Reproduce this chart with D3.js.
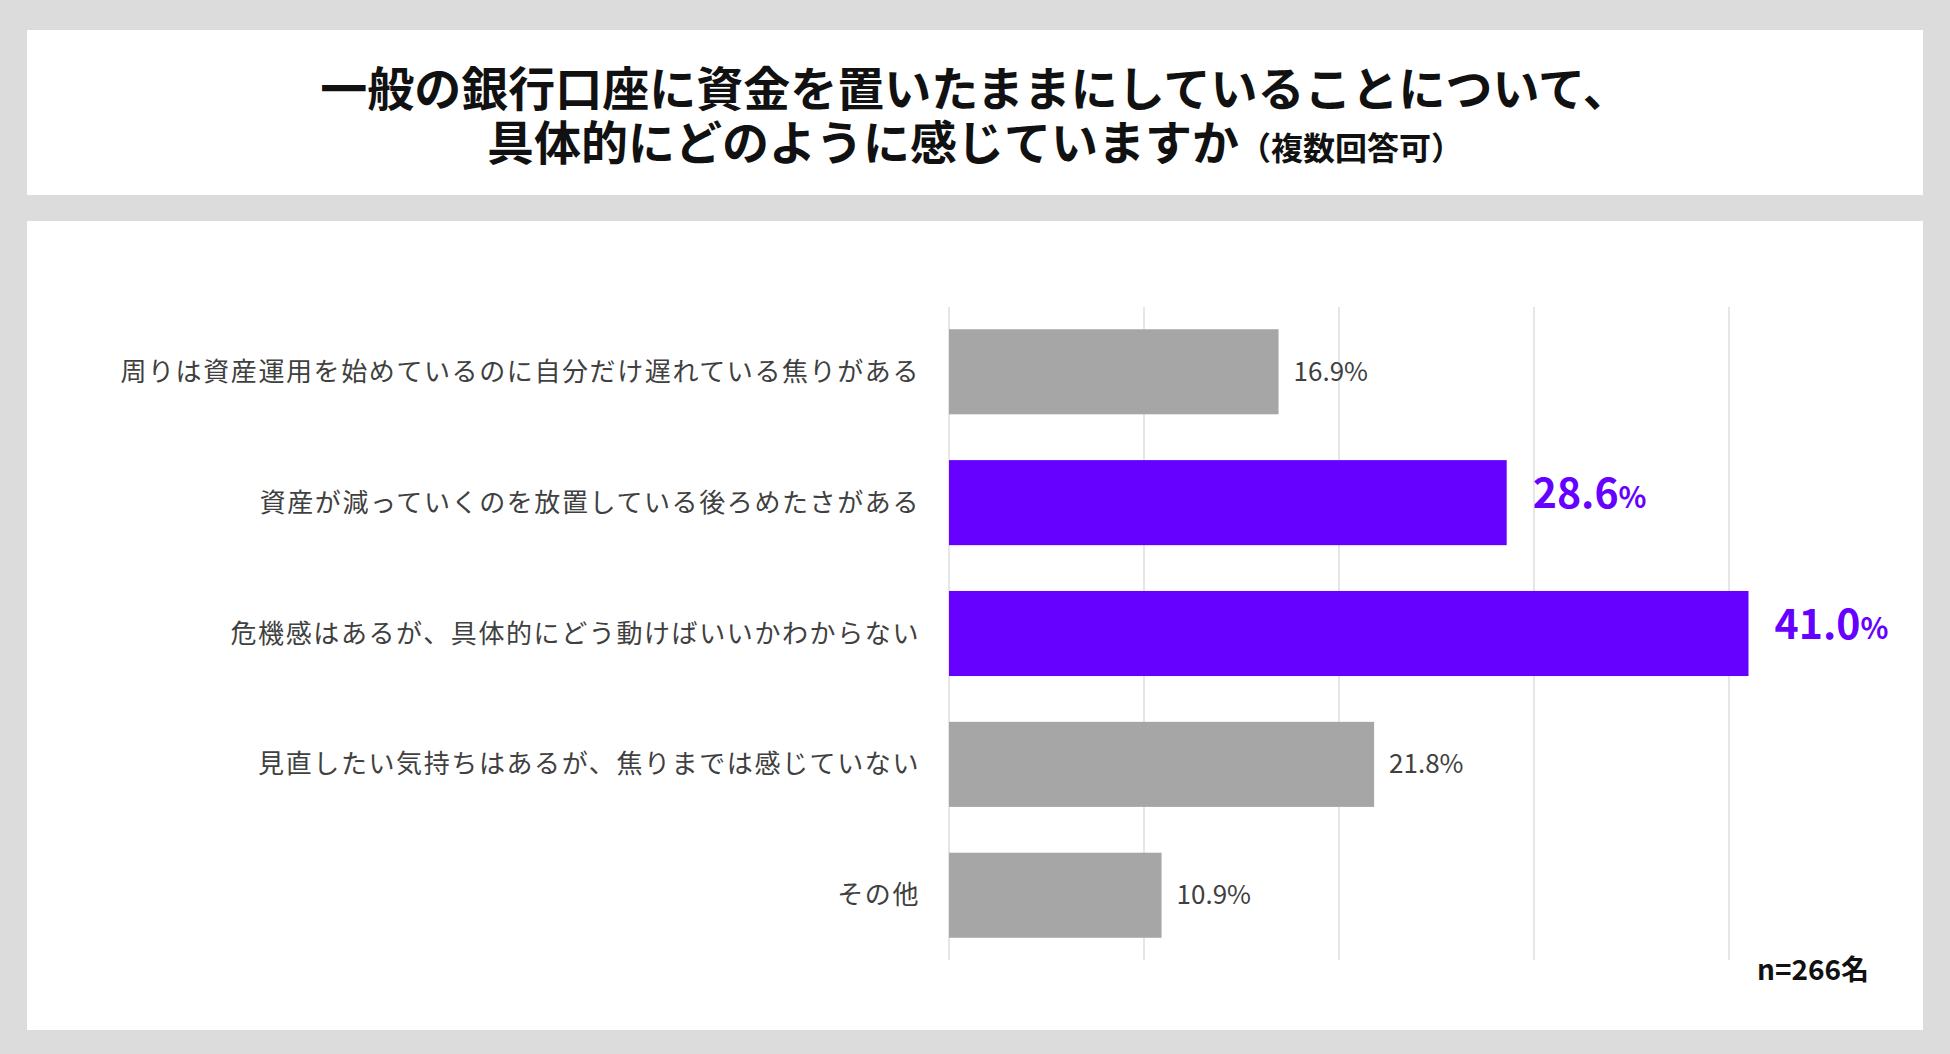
<!DOCTYPE html>
<html><head><meta charset="utf-8">
<script src="https://cdn.jsdelivr.net/npm/d3@7"></script>
<style>body{margin:0;background:#dcdcdc;font-family:"Noto Sans CJK JP",sans-serif;}</style>
</head><body>
<svg id="chart" width="1950" height="1054"></svg>
<script>
"use strict";

var categories = [
  "周りは資産運用を始めているのに自分だけ遅れている焦りがある",
  "資産が減っていくのを放置している後ろめたさがある",
  "危機感はあるが、具体的にどう動けばいいかわからない",
  "見直したい気持ちはあるが、焦りまでは感じていない",
  "その他"
];
var values = [16.9, 28.6, 41.0, 21.8, 10.9];
var highlight = [false, true, true, false, false];
var ticks = [0, 10, 20, 30, 40];

var svg = d3.select("#chart");
svg.append("rect").attr("width", 1950).attr("height", 1054).attr("fill", "#dcdcdc");
svg.append("rect").attr("x", 27).attr("y", 30).attr("width", 1896).attr("height", 165).attr("fill", "#fff");
svg.append("rect").attr("x", 27).attr("y", 221).attr("width", 1896).attr("height", 809).attr("fill", "#fff");

// title
svg.append("text").attr("x", 975).attr("y", 106).attr("text-anchor", "middle")
  .attr("font-size", 47).attr("font-weight", 700).attr("fill", "#111")
  .text("一般の銀行口座に資金を置いたままにしていることについて、");
var t2 = svg.append("text").attr("x", 975).attr("y", 160).attr("text-anchor", "middle")
  .attr("font-weight", 700).attr("fill", "#111");
t2.append("tspan").attr("font-size", 47).text("具体的にどのように感じていますか");
t2.append("tspan").attr("font-size", 32).text("（複数回答可）");

var x = d3.scaleLinear().domain([0, 50]).range([949, 1924]);
var y = d3.scaleBand().domain(categories).range([307, 960]).paddingInner(0.35).paddingOuter(0.17);

svg.append("g").selectAll("line").data(ticks).enter().append("line")
  .attr("x1", function(d) { return x(d); }).attr("x2", function(d) { return x(d); })
  .attr("y1", 307).attr("y2", 960)
  .attr("stroke", "#d9d9d9").attr("stroke-width", 1.3);

var rows = svg.append("g").selectAll("g").data(categories).enter().append("g");

rows.append("rect")
  .attr("x", x(0))
  .attr("y", function(d) { return y(d); })
  .attr("height", y.bandwidth())
  .attr("width", function(d, i) { return x(values[i]) - x(0); })
  .attr("fill", function(d, i) { return highlight[i] ? "#6600ff" : "#a6a6a6"; });

rows.append("text")
  .attr("x", 920)
  .attr("y", function(d) { return y(d) + y.bandwidth() / 2; })
  .attr("dy", "0.35em").attr("text-anchor", "end")
  .attr("font-size", 26).attr("letter-spacing", 1.6).attr("fill", "#404040")
  .text(function(d) { return d; });

rows.each(function(d, i) {
  var t = d3.select(this).append("text")
    .attr("x", x(values[i]) + (highlight[i] ? 26 : 15))
    .attr("y", y(d) + y.bandwidth() / 2)
    .attr("dy", "0.35em");
  if (highlight[i]) {
    t.attr("fill", "#6600ff").attr("font-weight", 700);
    t.append("tspan").attr("font-size", 41).text(values[i].toFixed(1));
    t.append("tspan").attr("font-size", 29).text("%");
  } else {
    t.attr("fill", "#404040").attr("font-size", 26).text(values[i].toFixed(1) + "%");
  }
});

svg.append("text").attr("x", 1869).attr("y", 980).attr("text-anchor", "end")
  .attr("font-size", 28).attr("font-weight", 700).attr("fill", "#111").text("n=266名");
</script>
</body></html>
